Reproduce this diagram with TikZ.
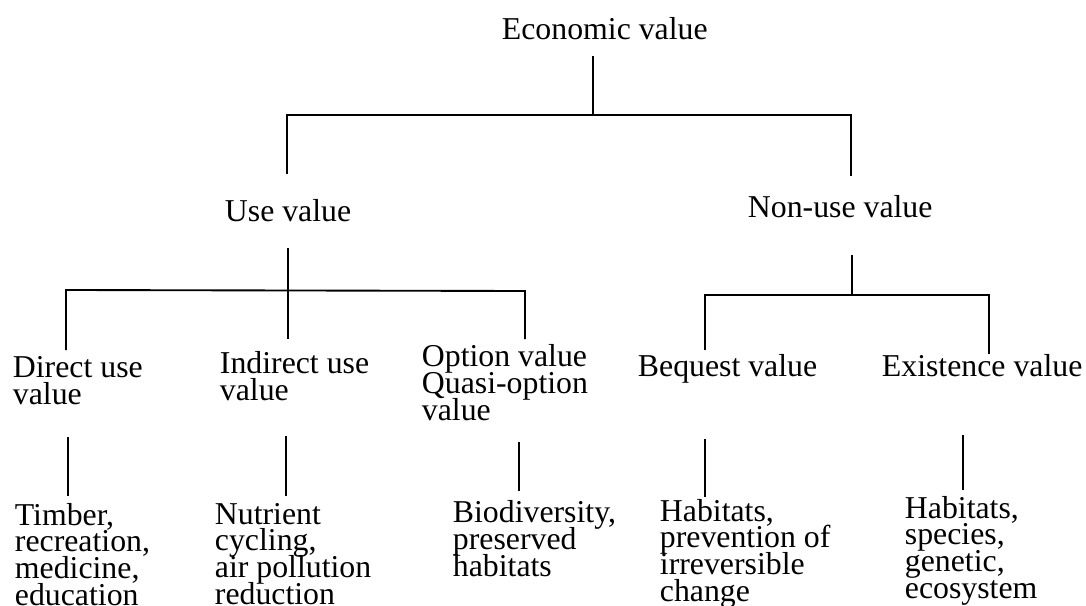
\documentclass[tikz,border=0pt]{standalone}
\usepackage{fontspec}
\setmainfont{Liberation Serif}

\newcommand\lblfont{\fontsize{23.85}{20}\selectfont\setlength{\lineskiplimit}{-100pt}}
\tikzset{every picture/.style={line width=1.4pt}}
\tikzset{lbl/.style={anchor=base west,inner sep=0pt,align=left,font=\lblfont}}

\begin{document}
\begin{tikzpicture}[x=0.75pt,y=0.75pt,yscale=-1,xscale=1]
	\useasboundingbox (0,0) rectangle (1086,606);
	
	% Text Node
	\node [lbl] (econ) at (501,40) {Economic value};
	% Text Node
	\node [lbl] (use) at (224,222) {Use value};
	% Text Node
	\node [lbl] (nonuse) at (747,218) {Non-use value};
	% Text Node
	\node [lbl] (direct) at (12,404) {Direct use\\value};
	% Text Node
	\node [lbl] (indirect) at (219,400) {Indirect use\\value};
	% Text Node
	\node [lbl] (option) at (421,420) {Option value\\Quasi-option\\value};
	% Text Node
	\node [lbl] (bequest) at (637,376) {Bequest value};
	% Text Node
	\node [lbl] (exist) at (881,376) {Existence value};
	% Text Node
	\node [lbl] (timber) at (14,605) {Timber,\\recreation,\\medicine,\\education};
	% Text Node
	\node [lbl] (nutrient) at (214,604) {Nutrient\\cycling,\\air pollution\\reduction};
	% Text Node
	\node [lbl] (biodiv) at (452,576) {Biodiversity,\\preserved\\habitats};
	% Text Node
	\node [lbl] (habitat) at (659,601) {Habitats,\\prevention of\\irreversible\\change};
	% Text Node
	\node [lbl] (species) at (904,598) {Habitats,\\species,\\genetic,\\ecosystem};
	
	%Straight Lines: economic value
	\coordinate (econ-j) at (593,56);
	\coordinate (top-m) at (593,115);
	\coordinate (top-l) at (287,115);
	\coordinate (top-r) at (851,115);
	\coordinate (use-t) at (287,174);
	\coordinate (nonuse-t) at (851,176);
	\draw (econ-j) -- (top-m);
	\draw (use-t) -- (top-l) -- (top-r) -- (nonuse-t);
	
	%Straight Lines: use value
	\coordinate (use-j) at (288,248);
	\coordinate (use-l) at (66,290);
	\coordinate (use-r) at (525,291);
	\coordinate (direct-t) at (66,350);
	\coordinate (indirect-t) at (288,339);
	\coordinate (option-t) at (525,339);
	\draw (use-j) -- (indirect-t);
	\draw (direct-t) -- (use-l) -- (use-r) -- (option-t);
	
	%Straight Lines: non-use value
	\coordinate (nonuse-j) at (852,255);
	\coordinate (nonuse-m) at (852,295);
	\coordinate (nonuse-l) at (705,295);
	\coordinate (nonuse-r) at (989,295);
	\coordinate (bequest-t) at (705,350);
	\coordinate (exist-t) at (989,354);
	\draw (nonuse-j) -- (nonuse-m);
	\draw (bequest-t) -- (nonuse-l) -- (nonuse-r) -- (exist-t);
	
	%Straight Lines: examples
	\foreach \n/\x/\ya/\yb in {direct/68/437/496,indirect/286/436/496,option/519/442/491,bequest/705/439/497,exist/963/435/490}{
		\coordinate (\n-a) at (\x,\ya);
		\coordinate (\n-b) at (\x,\yb);
		\draw (\n-a) -- (\n-b);
	}
	
\end{tikzpicture}
\end{document}
